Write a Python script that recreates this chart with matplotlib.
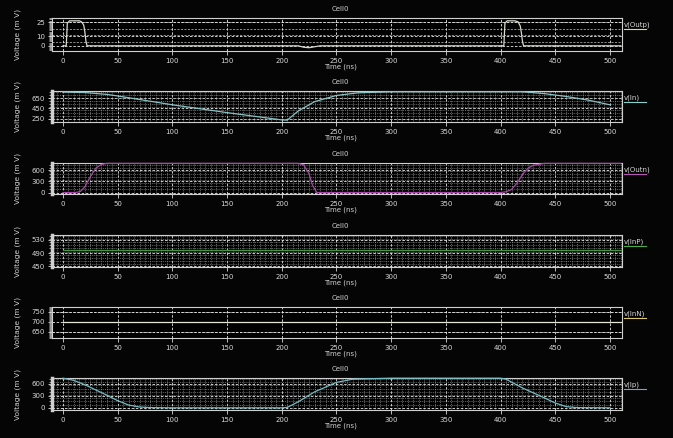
import numpy as np
import matplotlib
matplotlib.use('Agg')
import matplotlib.pyplot as plt
from matplotlib.ticker import MultipleLocator, FixedLocator

x_ticks = [0, 50, 100, 150, 200, 250, 300, 350, 400, 450, 500]

t_outp = [0, 3, 4, 6, 15, 17, 19, 20, 21, 22, 215, 220, 225, 230, 235,
          400, 403, 404, 406, 413, 416, 418, 419, 420, 421, 510]
v_outp = [0, 0, 24, 26.5, 26.5, 25.5, 22, 15, 5, 0, 0, -1.5, -2, -1, 0,
          0, 0, 24, 26.5, 26.5, 25.5, 21, 14, 5, 0, 0]

t_in = [0, 20, 40, 50, 100, 150, 200, 205, 215, 230, 250, 270, 300,
        420, 440, 460, 480, 500]
v_in = [765, 755, 720, 690, 520, 370, 230, 225, 400, 580, 700, 750, 770,
        770, 735, 680, 610, 520]

t_outn = [0, 12, 16, 20, 25, 30, 35, 40, 215, 220, 225, 228, 232, 400,
          405, 410, 415, 420, 425, 430, 440, 510]
v_outn = [0, 0, 30, 150, 420, 650, 750, 780, 780, 740, 500, 200, 0, 0,
          20, 80, 250, 480, 650, 730, 780, 780]

t_inp = [0, 510]
v_inp = [500, 500]

t_inn = [0, 510]
v_inn = [700, 700]

t_ip = [0, 10, 20, 30, 40, 50, 60, 70, 80, 100, 200, 205, 215, 230, 250,
        265, 300, 400, 405, 420, 440, 450, 460, 470, 500]
v_ip = [745, 690, 580, 450, 320, 180, 70, 20, 5, 0, 0, 10, 150, 400, 640,
        720, 745, 745, 720, 500, 250, 120, 30, 5, 0]

panels = [
    # name, t, v, ylim, yticks, line colour, legend colour, dense grid
    ('v(Outp)', t_outp, v_outp, (-5.5, 29.5), [0, 10, 25], '#d8d8cc', '#d8d890', False),
    ('v(In)',   t_in,   v_in,   (190, 785),   [250, 450, 650], '#86c4c4', '#86d0d0', True),
    ('v(Outn)', t_outn, v_outn, (-40, 790),   [0, 300, 600], '#a848a8', '#b858b8', True),
    ('v(InP)',  t_inp,  v_inp,  (448, 545),   [450, 490, 530], '#3c9a3c', '#48aa48', True),
    ('v(InN)',  t_inn,  v_inn,  (620, 775),   [650, 700, 750], '#e6e6d8', '#e0c870', False),
    ('v(Ip)',   t_ip,   v_ip,   (-55, 750),   [0, 300, 600], '#74bcc4', '#6aa8d8', True),
]

# axes boxes in pixels (top, bottom)
boxes = [(18, 51), (91, 122), (163, 194), (235, 267), (307, 338), (378, 410)]

W, H = 673, 438
fig = plt.figure(figsize=(W / 100, H / 100), dpi=100, facecolor='#050505')
left_px, right_px = 52, 622

fs = 5.0
for (name, t, v, ylim, yt, lc, legc, dense), (top, bot) in zip(panels, boxes):
    ax = fig.add_axes([left_px / W, 1 - bot / H, (right_px - left_px) / W, (bot - top) / H])
    ax.set_facecolor('black')
    ax.plot(t, v, color=lc, lw=0.9, zorder=3, clip_on=False)
    ax.set_xlim(-10, 511)
    ax.set_ylim(*ylim)
    ax.xaxis.set_major_locator(FixedLocator(x_ticks))
    ax.yaxis.set_major_locator(FixedLocator(yt))
    span = ylim[1] - ylim[0]
    if dense:
        ax.xaxis.set_minor_locator(MultipleLocator(5))
        ax.yaxis.set_minor_locator(MultipleLocator(span / 10.0))
        ax.grid(which='minor', color='#a0a0a0', ls=(0, (1.5, 1.5)), lw=0.45)
    else:
        ax.xaxis.set_minor_locator(MultipleLocator(10))
        ax.yaxis.set_minor_locator(MultipleLocator(span / 30.0))
        if name == 'v(Outp)':
            for yy in [4, 11, 18, 25]:
                ax.axhline(yy, color='#c8c8c8', ls=(0, (3, 2)), lw=0.5, zorder=0)
        else:
            for yy in [650, 750]:
                ax.axhline(yy, color='#c8c8c8', ls=(0, (3, 2)), lw=0.5, zorder=0)
    ax.grid(which='major', color='#e8e8e8', ls=(0, (3, 2)), lw=0.6)
    ax.set_axisbelow(True)
    for s in ax.spines.values():
        s.set_color('#d0d0d0')
        s.set_linewidth(0.8)
    ax.spines['left'].set_linewidth(2.5 if dense else 0.8)
    ax.tick_params(which='major', colors='#d8d8d8', labelsize=fs, length=3, width=0.6, pad=2)
    ax.tick_params(which='minor', colors='#d8d8d8', length=2, width=0.5)
    ax.tick_params(axis='x', which='minor', length=0)

    ax.set_ylabel('Voltage (m V)', color='#d0d0d0', fontsize=fs + 0.4)
    ax.yaxis.set_label_coords(-0.055, 0.5)

    cx = 340 / W
    fig.text(cx, 1 - (top - 9) / H, 'Cell0', color='#d0d0d0', fontsize=fs, ha='center', va='center')
    fig.text(cx, 1 - (bot + 16) / H, 'Time (ns)', color='#d0d0d0', fontsize=fs, ha='center', va='center')

    # legend label with underline on the right
    fig.text(624 / W, 1 - (top + 7) / H, name, color='#d8d8d8', fontsize=fs, ha='left', va='center')
    fig.add_artist(plt.Line2D([624 / W, 646 / W], [1 - (top + 11) / H] * 2, color=legc, lw=0.8))

fig.savefig('out.png', dpi=100, facecolor='#050505')
